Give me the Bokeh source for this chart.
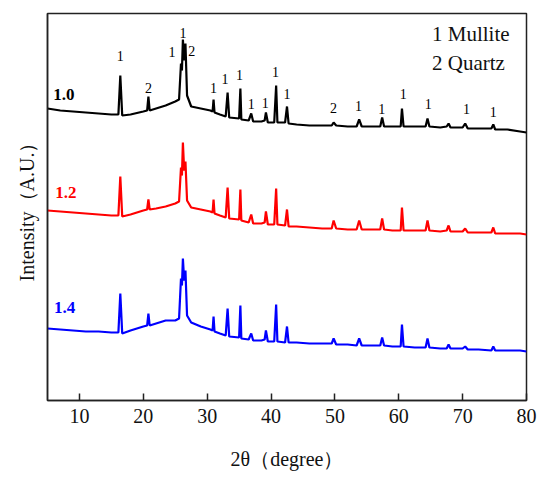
from bokeh.plotting import figure
from bokeh.models import ColumnDataSource, FixedTicker, Range1d
from bokeh.core.properties import value
from bokeh.embed import file_html
from bokeh.resources import INLINE

# 2-theta positions (degree) shared by all three patterns
two_theta = [5.0, 7.0, 9.0, 11.0, 13.0, 15.0, 16.1, 16.4, 16.7, 18.0,
             20.0, 20.6, 20.8, 21.0, 22.0, 23.5, 25.0, 25.6, 25.9, 26.05,
             26.2, 26.4, 26.6, 26.85, 27.5, 29.0, 30.5, 30.85, 31.0, 31.15,
             32.0, 32.9, 33.2, 33.45, 35.0, 35.2, 35.35, 36.5, 36.9, 37.2,
             38.5, 39.0, 39.2, 39.5, 40.5, 40.8, 41.0, 42.2, 42.5, 42.75,
             44.0, 46.0, 48.0, 49.5, 49.8, 50.2, 52.0, 53.4, 53.8, 54.2,
             56.0, 57.1, 57.4, 57.7, 59.0, 60.3, 60.5, 60.75, 62.5, 64.2,
             64.5, 64.8, 66.5, 67.5, 67.8, 68.1, 70.0, 70.4, 70.8, 72.5,
             74.5, 74.8, 75.1, 77.0, 79.0, 80.0]

# intensity (a.u., curves shown stacked)
int_10 = [292, 290, 289, 288, 287, 286, 286, 325, 285, 286,
          289, 290, 304, 290, 292, 295, 299, 301, 337, 330,
          361, 340, 357, 305, 294, 292, 290, 289, 301, 288,
          286, 284, 308, 283, 282, 312, 281, 280, 287, 279,
          279, 280, 288, 278, 278, 315, 278, 278, 294, 277,
          276, 275, 275, 275, 278, 275, 274, 274, 281, 274,
          274, 274, 283, 274, 274, 274, 292, 274, 274, 274,
          282, 274, 273, 274, 277, 273, 273, 277, 272, 272,
          272, 276, 271, 271, 269, 268]

int_12 = [190, 189, 188, 187, 186, 185, 185, 224, 184, 186,
          190, 191, 201, 191, 192, 194, 197, 199, 233, 225,
          258, 230, 239, 200, 193, 191, 189, 188, 201, 187,
          185, 183, 213, 182, 181, 211, 180, 178, 186, 177,
          177, 178, 189, 176, 176, 212, 176, 175, 191, 174,
          174, 173, 172, 172, 180, 172, 171, 171, 180, 171,
          171, 171, 182, 171, 170, 170, 193, 170, 170, 170,
          180, 170, 169, 170, 175, 169, 169, 172, 168, 168,
          168, 173, 167, 167, 167, 166]

int_14 = [72, 71, 70, 69, 69, 68, 68, 107, 67, 70,
          74, 75, 87, 75, 77, 80, 80, 82, 122, 115,
          142, 120, 130, 85, 78, 74, 71, 70, 84, 69,
          67, 65, 92, 64, 63, 95, 62, 61, 67, 60,
          60, 61, 70, 59, 59, 96, 59, 58, 74, 58,
          58, 57, 57, 57, 62, 56, 56, 55, 62, 55,
          55, 55, 63, 55, 54, 54, 76, 54, 53, 53,
          62, 53, 52, 52, 56, 52, 52, 54, 51, 51,
          50, 54, 50, 50, 50, 49]

series_names = ["1.0", "1.2", "1.4"]
series_colors = ["#000000", "#ff0000", "#0000ff"]
series_label_x = [5.9, 6.2, 6.0]
series_label_y = [306, 208, 93]

# phase markers: 1 = Mullite, 2 = Quartz
peak_label_text = ["1", "2", "1", "1", "2", "1", "1", "1", "1", "1",
                   "1", "1", "2", "1", "1", "1", "1", "1", "1"]
peak_label_x = [16.4, 20.8, 24.5, 26.2, 27.6, 31.0, 32.8, 35.05, 36.9, 39.1,
                40.7, 42.5, 49.8, 53.7, 57.35, 60.7, 64.6, 70.6, 74.8]
peak_label_y = [345, 313, 349, 368, 350, 313, 322, 326, 297, 298,
                329, 307, 293, 295, 292, 307, 297, 292, 289]

legend_text = ["1 Mullite", "2 Quartz"]
legend_x = [65.2, 65.2]
legend_y = [367, 338]

x_ticks = [10, 20, 30, 40, 50, 60, 70, 80]

SERIF = "Liberation Serif"

p = figure(width=540, height=474, output_backend="svg", toolbar_location=None,
           x_range=Range1d(5, 80), y_range=Range1d(0, 387),
           min_border_left=47, min_border_right=14, min_border_top=13,
           min_border_bottom=74)

p.xgrid.visible = False
p.ygrid.visible = False
p.outline_line_color = "#222222"
p.outline_line_width = 1.5
p.background_fill_color = "white"
p.border_fill_color = "white"

series = [int_10, int_12, int_14]
for ys, c in zip(series, series_colors):
    src = ColumnDataSource(dict(x=two_theta, y=ys))
    p.line("x", "y", source=src, line_color=c, line_width=2.2)

lab_src = ColumnDataSource(dict(x=series_label_x, y=series_label_y,
                                t=series_names, c=series_colors))
p.text("x", "y", text="t", source=lab_src, text_color="c",
       text_font=value(SERIF), text_font_size="17px", text_font_style="bold",
       text_align="left", text_baseline="middle")

pk_src = ColumnDataSource(dict(x=peak_label_x, y=peak_label_y, t=peak_label_text))
p.text("x", "y", text="t", source=pk_src, text_color="#000000",
       text_font=value(SERIF), text_font_size="14px",
       text_align="center", text_baseline="middle")

lg_src = ColumnDataSource(dict(x=legend_x, y=legend_y, t=legend_text))
p.text("x", "y", text="t", source=lg_src, text_color="#111111",
       text_font=value(SERIF), text_font_size="21px",
       text_align="left", text_baseline="middle")

xa = p.xaxis[0]
xa.ticker = FixedTicker(ticks=x_ticks)
xa.major_tick_in = 7
xa.major_tick_out = 0
xa.minor_tick_line_color = None
xa.major_tick_line_width = 1.5
xa.major_tick_line_color = "#222222"
xa.axis_line_width = 1.5
xa.axis_line_color = "#222222"
xa.major_label_text_font = SERIF
xa.major_label_text_font_size = "20px"
xa.major_label_text_color = "#111111"
xa.major_label_standoff = 8
xa.axis_label = "2θ（degree）"
xa.axis_label_text_font = SERIF
xa.axis_label_text_font_size = "20px"
xa.axis_label_text_font_style = "normal"
xa.axis_label_text_color = "#111111"
xa.axis_label_standoff = 22

ya = p.yaxis[0]
ya.ticker = FixedTicker(ticks=[])
ya.major_tick_line_color = None
ya.minor_tick_line_color = None
ya.axis_line_width = 1.5
ya.axis_line_color = "#222222"
ya.axis_label = "Intensity（A.U.）"
ya.axis_label_text_font = SERIF
ya.axis_label_text_font_size = "20px"
ya.axis_label_text_font_style = "normal"
ya.axis_label_text_color = "#111111"
ya.axis_label_standoff = 10

open("out.html", "w").write(file_html(p, INLINE))
